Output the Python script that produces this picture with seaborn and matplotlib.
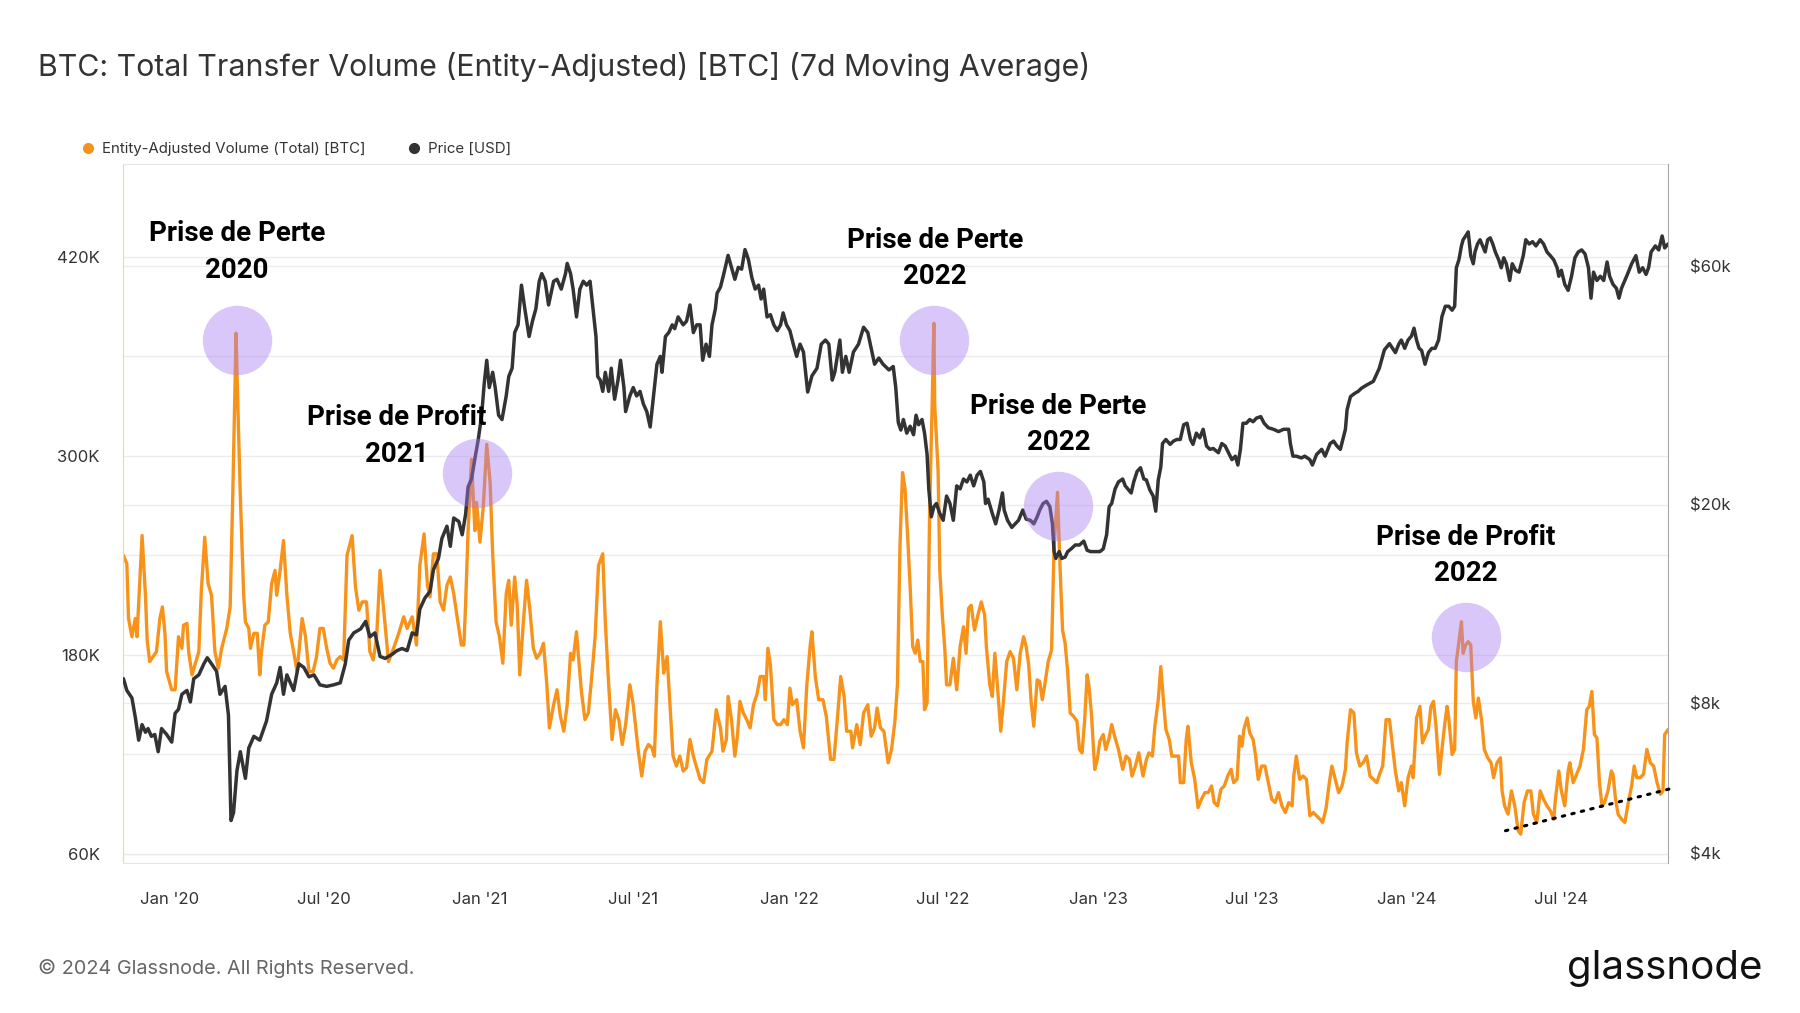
import numpy as np
import pandas as pd
import matplotlib
matplotlib.use("Agg")
import matplotlib.pyplot as plt
import matplotlib.dates as mdates
import matplotlib.transforms as mtransforms
from matplotlib.lines import Line2D
from matplotlib.ticker import FixedLocator, NullLocator
import seaborn as sns

# ---------------------------------------------------------------------------
# Data (days counted from 2020-01-01)
# ---------------------------------------------------------------------------
# Entity-adjusted transfer volume, 7d MA, thousands of BTC
vol_days = [
    -55, -51, -49, -45, -41, -39, -33, -29, -27, -24, -20, -16, -12, -9, -6, -4,
    2, 6, 10, 14, 16, 20, 22, 26, 30, 34, 37, 41, 45, 49, 53, 57, 61, 67, 71,
    74, 76, 78, 80, 83, 87, 89, 93, 95, 99, 103, 106, 108, 112, 116, 120, 124,
    126, 130, 134, 138, 142, 146, 150, 156, 160, 164, 169, 173, 177, 181, 185,
    189, 193, 197, 201, 205, 209, 215, 219, 223, 227, 232, 236, 240, 244,
    248, 254, 258, 264, 270, 276, 280, 286, 291, 295, 300, 304, 307, 311, 315,
    319, 323, 327, 331, 335, 339, 344, 347, 349, 352, 356, 360, 362, 366, 370,
    374, 378, 381, 385, 389, 393, 397, 400, 403, 407, 410, 413, 417, 421, 425,
    429, 433, 437, 441, 445, 448, 453, 457, 461, 465, 469, 473, 476, 480, 482,
    486, 490, 494, 498, 502, 506, 511, 514, 518, 522, 526, 530, 534, 538, 543,
    547, 550, 553, 557, 561, 565, 569, 572, 575, 579, 583, 587, 591, 594, 598,
    602, 606, 610, 614, 618, 622, 626, 630, 634, 640, 645, 650, 653, 657, 659,
    663, 667, 670, 673, 677, 681, 685, 689, 693, 697, 701, 703, 706, 709, 713,
    717, 721, 725, 729, 732, 735, 740, 744, 748, 752, 756, 758, 762, 766, 771,
    775, 780, 784, 788, 792, 796, 799, 804, 806, 811, 815, 819, 824, 828, 832,
    835, 839, 843,
    848, 852, 856, 859, 862, 865, 868, 871, 874, 877, 880, 883, 886, 889, 891,
    894, 897, 900, 902, 903, 907, 909, 912, 915, 917, 921, 925, 929, 933, 937,
    940, 943, 946, 950, 954, 958, 962, 964, 968, 971, 974, 977, 981, 984, 988,
    992, 996, 1000, 1004, 1008, 1011, 1014, 1017, 1020, 1024, 1027, 1030, 1033,
    1037, 1041, 1044, 1048, 1051, 1054, 1057, 1060, 1063, 1067, 1071, 1074,
    1077, 1080, 1083, 1085, 1088, 1092, 1095, 1098, 1102, 1105, 1109, 1112,
    1116, 1120, 1125, 1129, 1133, 1136, 1140, 1144,
    1149, 1153, 1156, 1160, 1163, 1167, 1170, 1173, 1176, 1180, 1183, 1187,
    1191, 1193, 1197, 1200, 1202, 1206, 1210, 1214, 1218, 1222, 1226, 1230,
    1233, 1237, 1241, 1245, 1249, 1253, 1256, 1260, 1263, 1266, 1268, 1272,
    1275, 1279, 1282, 1285, 1289, 1293, 1297, 1301, 1305, 1309, 1313, 1317,
    1321, 1325, 1327, 1330, 1334, 1338, 1342, 1346, 1350, 1354, 1358, 1361,
    1365, 1369, 1372, 1376, 1380, 1384, 1388, 1390, 1394, 1398, 1401, 1405,
    1409, 1413, 1417, 1421, 1425, 1429, 1432, 1436, 1440, 1444,
    1447, 1451, 1454, 1458, 1462, 1466, 1468, 1472, 1476, 1479, 1483, 1486,
    1489, 1492, 1495, 1499, 1502, 1505, 1508, 1510, 1514, 1517, 1519, 1522,
    1525, 1527, 1530, 1533, 1536, 1539, 1542, 1545, 1549, 1552, 1556, 1560,
    1563, 1567, 1571, 1573, 1576, 1580, 1584, 1588, 1592, 1595, 1599, 1603,
    1607, 1610, 1614, 1618, 1622, 1626, 1630, 1634, 1636, 1640, 1643, 1647,
    1651, 1653, 1657, 1661, 1665, 1669, 1673, 1676, 1679, 1682, 1685, 1688,
    1691, 1694, 1698, 1702, 1704, 1707, 1710, 1714, 1718, 1722, 1726, 1729,
    1732, 1736, 1740, 1744, 1748, 1752, 1756, 1760, 1763, 1765, 1769,
]
vol_k = [
    240, 235, 202, 191, 202, 191, 252, 216, 189, 176, 179, 182, 202, 209, 193, 170,
    159, 159, 191, 184, 198, 199, 182, 168, 175, 182, 219, 251, 223, 216, 182, 172, 184, 196, 209,
    274, 325, 374, 332, 276, 216, 200, 196, 184, 193, 193, 168, 182, 198, 200, 223, 231,
    216, 231, 249, 216, 193, 182, 170, 202, 191, 170, 170, 179, 196, 196, 184,
    175, 172, 177, 179, 177, 240, 252, 221, 207, 212, 212, 182, 177, 191,
    231, 198, 176, 184, 193, 203, 196, 203, 186, 234, 253, 222, 215, 241, 241,
    212, 207, 222, 227, 217, 203, 186, 186, 210, 255, 298, 255, 272, 248, 270,
    307, 284, 241, 200, 191, 175, 217, 225, 198, 227, 210, 168, 198, 225, 207,
    184, 178, 181, 187, 162, 136, 150, 159, 143, 134, 150, 181, 177, 194, 181,
    157, 141, 145, 167, 191, 234, 241, 200, 162, 129, 147, 141, 126, 138, 162,
    150, 136, 122, 107, 122, 126, 124, 119, 162, 200, 169, 179, 145, 119, 113,
    119, 110, 112, 129, 119, 112, 105, 103, 117, 122, 147, 136, 122, 129, 155,
    141, 119, 131, 152, 145, 141, 136, 150, 156, 167, 167, 153, 184, 174, 141,
    138, 138, 141, 138, 160, 150, 153, 134, 124, 162, 186, 194, 167, 153, 153,
    143, 117, 117, 141, 167, 155, 134, 134, 124, 138, 126, 145, 150, 131, 136,
    148, 136, 134,
    115, 123, 140, 162, 246, 290, 280, 252, 221, 185, 181, 189, 176, 176, 147,
    151, 267, 331, 380, 331, 291, 231, 204, 183, 162, 162, 178, 159, 185, 197,
    181, 208, 210, 195, 204, 212, 204, 185, 162, 155, 181, 162, 134, 151, 176,
    182, 178, 159, 181, 191, 185, 174, 151, 137, 165, 164, 153, 162,
    176, 183, 246, 278, 233, 195, 187, 170, 145, 143, 140, 123,
    121, 140, 168, 162, 145, 111, 117, 128, 132, 123, 130, 138,
    130, 123, 111, 119, 117, 107, 113, 121,
    107, 117, 121, 119, 137, 153, 173, 153, 135, 129, 119, 119,
    119, 103, 103, 129, 137, 115, 105, 88, 93, 97, 97, 101,
    91, 89, 99, 101, 107, 111, 103, 105, 131, 125, 135, 142,
    133, 129, 119, 105, 113, 113, 103, 93, 91, 97, 89, 85,
    91, 89, 107, 119, 105, 107, 105, 83, 85, 83, 81, 79,
    87, 103, 113, 105, 97, 101, 111, 127, 147, 145, 121, 113,
    115, 119, 107, 105, 103, 109, 113, 141, 141, 123,
    110, 98, 103, 89, 106, 113, 106, 142, 149, 127, 132, 135,
    149, 152, 137, 108, 123, 137, 149, 142, 120, 123, 176, 188,
    200, 181, 186, 188, 186, 152, 142, 154, 140, 123, 118, 115,
    106, 115, 118, 98, 89, 84, 98, 89, 74, 72, 91, 98,
    98, 84, 79, 98, 93, 89, 86, 81, 93, 110, 98, 89,
    110, 115, 103, 108, 113, 123, 147, 149, 158, 132, 130, 103,
    89, 91, 98, 110, 108, 93, 84, 81, 79, 91, 101, 113,
    106, 106, 108, 123, 115, 113, 103, 96, 98, 132, 135,
]

# BTC price, thousands of USD
price_days = [
    -55, -51, -45, -41, -37, -33, -29, -26, -22, -18, -14, -10, -4, 2, 6, 10,
    14, 20, 24, 28, 34, 40, 44, 49, 55, 59, 65, 69, 72, 75, 79, 83, 89, 93, 99,
    106, 114, 120, 126, 130, 134, 138, 146, 152, 158, 164, 170, 177, 185, 193,
    201, 207, 211, 217, 225, 231, 236, 242,
    248, 254, 262, 268, 274, 280, 286, 291, 295, 301, 307, 311, 317, 321, 327,
    331, 335, 341, 345, 349, 352, 356, 360, 364, 368, 371, 374, 377, 381, 384,
    388, 392, 397, 400, 404, 407, 411, 415, 419, 424, 428, 432, 436, 439, 443,
    447, 453, 457, 462, 467, 469, 473, 476, 480, 484, 488, 492, 496, 500, 503,
    505, 508, 511, 514, 518, 521, 525, 529, 532, 536, 538, 543,
    547, 551, 555, 559, 563, 567, 571, 575, 579, 581, 585, 589, 593, 596, 600,
    606, 610, 614, 618, 622, 626, 629, 633, 637, 640, 644, 646, 650, 654, 659,
    663, 667, 671, 675, 679, 683, 687, 691, 695, 698, 701, 705, 709, 713, 717,
    721, 724, 728, 732, 736, 740, 744, 748, 753, 758, 764, 769, 774, 778, 782,
    785, 791, 794, 798, 802, 807, 813, 819, 824, 828, 832, 837, 842,
    849, 854, 857, 860, 863, 866, 870, 874, 878, 881, 884, 888, 891, 894, 896,
    899, 902, 905, 909, 913, 917, 921, 925, 929, 933, 937, 941, 945, 949, 953,
    957, 961, 963, 966, 971, 975, 979, 983, 985, 989, 994, 998, 1002, 1007,
    1011, 1016, 1020, 1024, 1027, 1031, 1035, 1039, 1042, 1044, 1046, 1050,
    1053, 1057, 1060, 1064, 1069, 1074, 1079, 1083, 1087, 1092, 1098, 1102,
    1106, 1109, 1112, 1116, 1120, 1125, 1128, 1131, 1135, 1138, 1142, 1146, 1150,
    1153, 1157, 1161, 1164, 1167, 1170, 1172, 1176, 1181, 1185, 1189, 1193,
    1197, 1201, 1205, 1208, 1212, 1216, 1220, 1224, 1228, 1232, 1238, 1242,
    1246, 1250, 1254, 1258, 1261, 1264, 1267, 1271, 1275, 1279, 1283, 1288,
    1292, 1297, 1303, 1309, 1315, 1321, 1323, 1326, 1330, 1336, 1340, 1346,
    1349, 1354, 1360, 1364, 1370, 1374, 1378, 1382, 1385, 1388, 1390, 1394,
    1399, 1403, 1407, 1413, 1421, 1428, 1434, 1440,
    1447, 1451, 1454, 1458, 1462, 1466, 1469, 1472, 1475, 1478, 1482, 1486,
    1490, 1494, 1498, 1502, 1506, 1510, 1514, 1517, 1519, 1522, 1525, 1527,
    1530, 1533, 1536, 1539, 1541, 1544, 1547, 1550, 1553, 1556, 1559, 1562,
    1565, 1569, 1572, 1575, 1578, 1582, 1585, 1589, 1593, 1598, 1601, 1605,
    1609, 1613, 1618, 1622, 1626, 1630, 1634, 1638, 1640, 1643, 1647, 1651,
    1655, 1659, 1663, 1667, 1671, 1675, 1678, 1681, 1685, 1689, 1693, 1697,
    1700, 1704, 1708, 1711, 1714, 1718, 1721, 1726, 1731, 1735, 1739, 1743,
    1746, 1749, 1754, 1758, 1762, 1765, 1769,
]
price_k = [
    8.96, 8.49, 8.2, 7.5, 6.75, 7.25, 7.0, 7.12, 6.87, 6.93, 6.4, 7.12, 6.93, 6.69, 7.64, 7.78,
    8.34, 8.49, 8.05, 8.96, 9.12, 9.6, 9.87, 9.6, 9.27, 8.34, 8.65, 7.57, 4.66, 4.83, 5.86, 6.4, 5.66, 6.51, 6.87,
    6.75, 7.38, 8.34, 8.79, 9.44, 8.34, 9.12, 8.49, 9.6, 9.44, 9.04, 9.12, 8.71, 8.65, 8.71,
    8.79, 9.6, 10.7, 11.07, 11.27, 11.67, 10.87, 11.07,
    9.93, 9.84, 10.02, 10.2, 10.3, 10.2, 11.07, 10.97, 12.35, 13.0, 13.4, 14.8, 15.6, 17.1, 18.1,
    16.5, 18.8, 18.5, 17.4, 19.1, 21.7, 22.5, 24.7, 27.0, 30.2, 34.9, 38.9, 34.3, 36.8, 34.3,
    30.2, 29.6, 33.0, 36.1, 37.5, 44.2, 45.8, 55.0, 49.3, 43.4, 46.6, 49.3, 56.0, 58.0, 56.0,
    50.2, 56.0, 56.5, 54.0, 58.0, 60.8, 58.0, 54.0, 47.5, 54.0, 56.0, 55.0, 56.0, 48.4, 43.4,
    36.1, 35.5, 33.7, 36.8, 33.7, 37.5, 32.5, 35.5, 38.9, 34.3, 30.7, 33.0,
    34.3, 33.0, 33.7, 31.8, 30.7, 28.6, 33.0, 38.2, 39.6, 36.8, 43.4, 44.2, 45.8, 45.0, 47.5,
    45.8, 46.6, 50.2, 44.2, 45.8, 45.8, 38.9, 41.9, 39.6, 45.8, 49.3, 53.0, 54.5, 58.0, 63.1,
    59.7, 56.5, 59.7, 59.2, 64.8, 61.9, 57.0, 54.0, 55.0, 51.6, 54.0, 47.5, 48.0, 45.8, 44.6,
    45.8, 48.4, 45.8, 44.6, 41.9, 39.6, 41.9, 40.4, 33.6, 36.2, 37.5, 41.9, 42.7, 41.9, 35.5,
    36.8, 42.7, 36.8, 39.6, 36.8, 40.4, 41.9, 45.3, 44.2, 41.1, 38.2, 39.3, 38.2,
    37.2, 37.8, 34.3, 29.2, 28.2, 29.6, 27.8, 28.7, 27.6, 30.2, 28.9, 29.6, 27.8, 25.2, 21.5,
    18.9, 19.8, 20.1, 19.2, 18.6, 20.8, 20.1, 18.6, 21.8, 21.5, 22.5, 22.2, 22.9, 21.8, 22.9,
    23.3, 22.2, 20.1, 20.5, 19.2, 18.3, 19.5, 21.1, 19.5, 18.6, 18.0, 18.3, 18.6, 19.5,
    18.7, 18.6, 18.3, 18.9, 19.5, 20.1, 20.3, 19.8, 18.3, 16.1, 15.6, 16.1,
    15.6, 15.7, 16.1, 16.3, 16.6, 16.6, 16.9, 16.2, 16.1, 16.1, 16.1, 16.3,
    17.4, 19.8, 20.1, 21.5, 22.2, 22.5, 21.8, 21.5, 21.1, 22.2, 23.3, 23.7, 22.5,
    22.4, 21.4, 20.8, 19.4, 22.4, 23.8, 26.5, 27.0, 26.4, 26.8, 27.0, 27.0,
    28.9, 29.1, 27.0, 26.4, 27.8, 27.2, 28.3, 26.2, 25.8, 25.9, 25.4, 26.5,
    26.2, 25.4, 24.6, 25.0, 24.0, 25.8, 29.1, 29.1, 29.6, 29.3, 29.8, 30.0,
    29.1, 28.5, 28.3, 28.0, 28.3, 28.3, 26.5, 25.0, 25.0, 24.8, 25.0, 24.6,
    24.0, 25.2, 25.8, 25.0, 26.5, 26.8, 26.2, 25.8, 27.0, 28.3, 31.0, 32.9,
    33.4, 33.7, 34.2, 34.7, 35.3, 37.5, 40.8, 42.0,
    40.3, 41.9, 42.7, 41.1, 42.7, 43.5, 45.1, 42.7, 41.1, 40.7, 38.2, 40.3,
    41.1, 41.1, 42.7, 47.6, 49.9, 49.9, 49.0, 49.9, 59.6, 61.8, 65.9, 67.8,
    69.0, 70.3, 63.0, 60.7, 64.1, 66.5, 67.8, 65.9, 64.1, 67.8, 68.4, 66.5,
    64.1, 61.8, 59.6, 62.4, 60.7, 56.2, 60.7, 58.9, 58.4, 63.0, 67.8, 66.5,
    67.2, 65.9, 67.8, 66.5, 64.1, 63.0, 61.8, 59.6, 57.3, 58.9, 55.2, 53.7,
    57.3, 62.4, 64.1, 64.7, 63.5, 59.6, 51.8, 58.4, 56.2, 57.3, 56.2, 61.2,
    57.3, 55.2, 54.2, 51.8, 54.2, 56.2, 57.8, 60.7, 63.0, 58.4, 59.6, 57.8,
    59.6, 64.1, 65.9, 64.7, 69.0, 65.3, 66.5,
]

# highlighted events (circle centre on the volume axis) and their labels
event_labels = ["Prise de Perte\n2020", "Prise de Profit\n2021", "Prise de Perte\n2022",
                "Prise de Perte\n2022", "Prise de Profit\n2022"]
event_days = [79, 363, 902, 1049, 1530]
event_vol_k = [370, 290, 370, 270, 191]
label_days = [79, 268, 903, 1049, 1530]
label_vol_k = [423, 312, 419, 319, 240]

# dotted support line drawn under the 2024 lows
trend_days = [1577, 1777]
trend_vol_k = [74, 100]

ORANGE = "#f7931a"
DARK = "#333333"

base = pd.Timestamp("2020-01-01")
to_date = lambda d: base + pd.to_timedelta(d, unit="D")

vol = pd.DataFrame({"date": to_date(vol_days), "volume": np.array(vol_k) * 1000})
price = pd.DataFrame({"date": to_date(price_days), "price": np.array(price_k) * 1000})

sns.set_style("white")
plt.rcParams["font.family"] = ["Inter", "DejaVu Sans"]

fig = plt.figure(figsize=(18, 10.13), dpi=100)
ax = fig.add_axes([0.0683, 0.148, 0.8584, 0.690])
ax2 = ax.twinx()

sns.lineplot(data=vol, x="date", y="volume", ax=ax, color=ORANGE, lw=2.4)
sns.lineplot(data=price, x="date", y="price", ax=ax2, color=DARK, lw=2.5)

# axes limits
ax.set_xlim(to_date(-55.6), to_date(1769))
ax.set_ylim(54500, 476000)
ax2.set_yscale("log")
ax2.set_ylim(3830, 96100)

# left axis
ax.set_yticks([60000, 180000, 300000, 420000])
ax.set_yticklabels(["60K", "180K", "300K", "420K"])
ax.yaxis.set_minor_locator(FixedLocator([120000, 240000, 360000]))
ax.grid(axis="y", which="both", color="#ececec", lw=1)
ax.tick_params(axis="y", which="both", length=0, pad=16.7, labelsize=12, labelcolor=DARK)

# right axis: ticks + its own gridlines drawn beneath the lines
price_ticks = [4000, 8000, 20000, 60000]
ax2.set_yticks(price_ticks)
ax2.set_yticklabels(["$4k", "$8k", "$20k", "$60k"])
ax2.yaxis.set_minor_locator(NullLocator())
ax2.tick_params(axis="y", length=0, pad=16, labelsize=12, labelcolor=DARK)
blend = mtransforms.blended_transform_factory(ax.transAxes, ax2.transData)
for p in price_ticks:
    ax.plot([0, 1], [p, p], transform=blend, color="#ececec", lw=1, zorder=0)

# x axis
ax.xaxis.set_major_locator(mdates.MonthLocator(bymonth=[1, 7]))
ax.xaxis.set_major_formatter(mdates.DateFormatter("%b '%y"))
ax.tick_params(axis="x", length=13, width=1, color="#e3e3e3", pad=8,
               labelsize=12, labelcolor=DARK)
ax.set_xlabel("")
ax.set_ylabel("")
ax2.set_ylabel("")

for side in ["top", "bottom"]:
    ax.spines[side].set_color("#e6e6e6")
ax.spines["left"].set_color("#fbd19c")
ax.spines["right"].set_visible(False)
for side in ["top", "bottom", "left"]:
    ax2.spines[side].set_visible(False)
ax2.spines["right"].set_color("#a8a8a8")

# event circles and labels (positioned on the volume axis)
ax2.scatter(to_date(event_days), np.array(event_vol_k) * 1000, transform=ax.transData,
            s=2500, color="#a77bf3", alpha=0.42, linewidths=0, zorder=5)
for lab, d, v in zip(event_labels, label_days, label_vol_k):
    ax2.text(mdates.date2num(to_date(d)), v * 1000, lab, transform=ax.transData,
             ha="center", va="center", fontsize=20, fontweight="bold",
             family=["Roboto", "DejaVu Sans"], linespacing=1.45, color="black", zorder=6)

ax2.plot(to_date(trend_days), np.array(trend_vol_k) * 1000, transform=ax.transData,
         color="black", lw=2.2, ls=(0, (0.8, 2.4)), dash_capstyle="round",
         clip_on=False, zorder=4)
ax2.set_ylim(3830, 96100)

# header, legend, footer
fig.text(0.021, 0.934, "BTC: Total Transfer Volume (Entity-Adjusted) [BTC] (7d Moving Average)",
         fontsize=21.8, color=DARK, va="center")
handles = [Line2D([], [], marker="o", ls="", color=ORANGE, ms=7),
           Line2D([], [], marker="o", ls="", color=DARK, ms=7)]
fig.legend(handles, ["Entity-Adjusted Volume (Total) [BTC]", "Price [USD]"],
           loc="center left", bbox_to_anchor=(0.0365, 0.853), ncol=2, frameon=False,
           fontsize=10.8, handlelength=1.2, handletextpad=0.33, columnspacing=2.6,
           labelcolor=DARK)
fig.text(0.021, 0.044, "\u00a9 2024 Glassnode. All Rights Reserved.", fontsize=14.3,
         color="#666666", va="center")
fig.text(0.979, 0.044, "glassnode", fontsize=29, ha="right", va="center", color="#111111")

fig.savefig("out.png", dpi=100)
